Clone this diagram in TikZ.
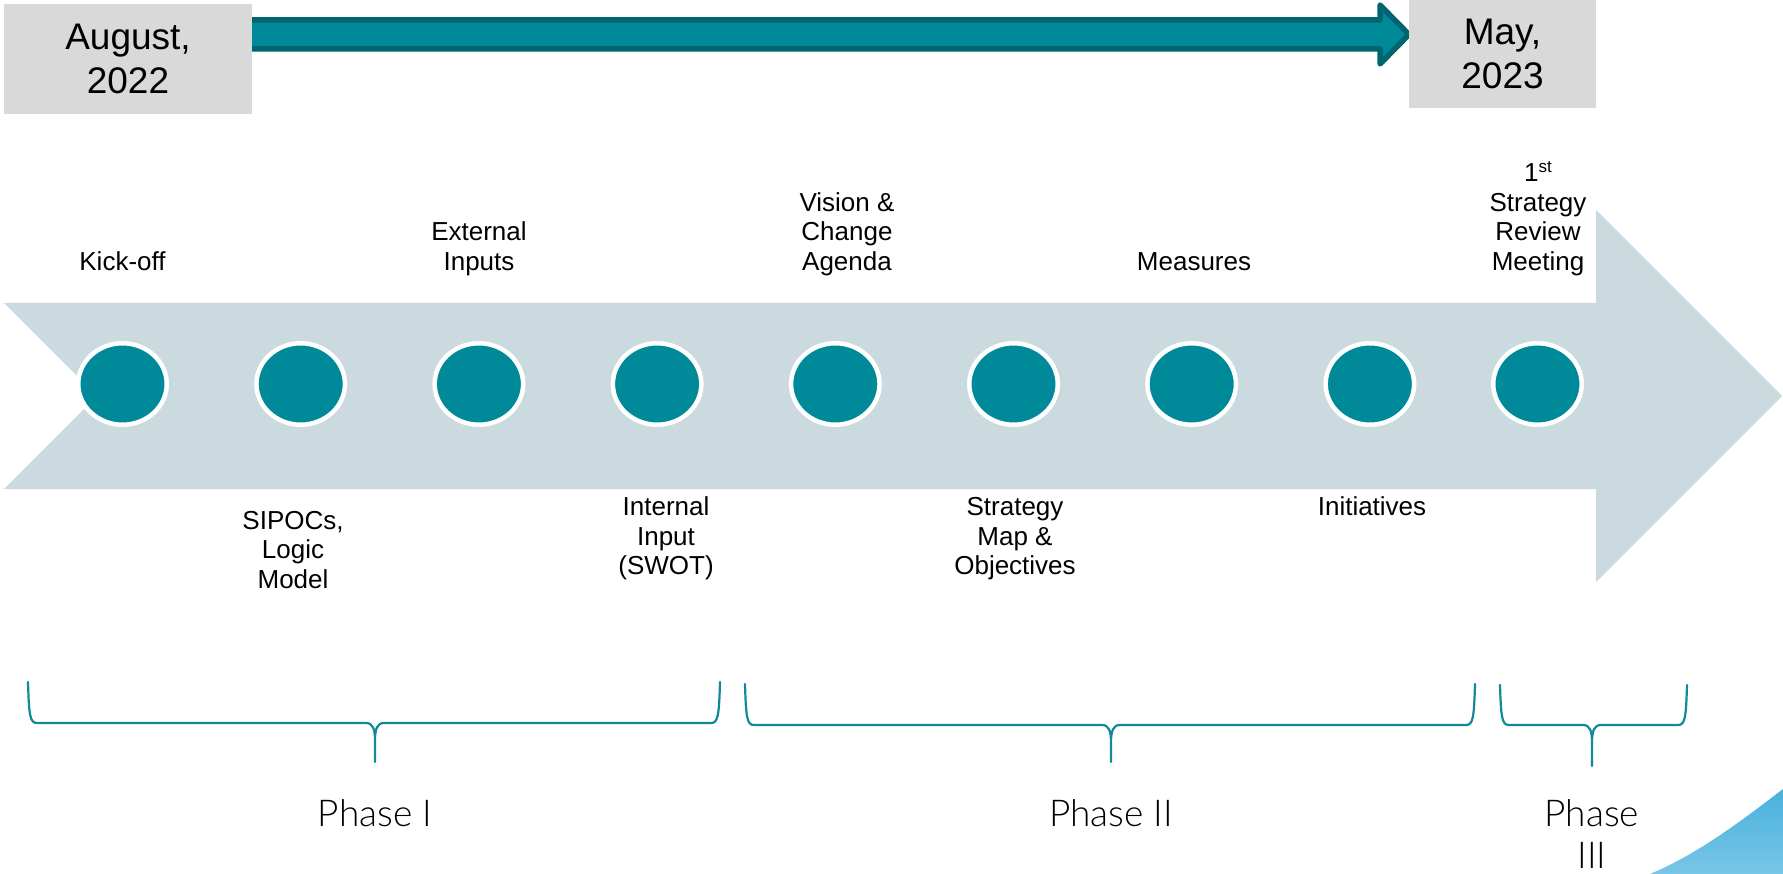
\documentclass[tikz,border=0pt]{standalone}
\usepackage{fontspec}
\setmainfont{Liberation Sans}
\newfontfamily\phasefont{Lato Light}
\usetikzlibrary{shapes.geometric}
\definecolor{tealmain}{RGB}{0,138,153}
\definecolor{tealdark}{RGB}{0,101,111}
\definecolor{arrowlight}{RGB}{202,218,223}
\definecolor{dategray}{RGB}{217,217,217}
\definecolor{bracecol}{RGB}{16,137,152}
\definecolor{swtop}{RGB}{74,177,220}
\definecolor{swbot}{RGB}{120,198,231}
\newcommand{\fstrut}{\rule{0pt}{24pt}}
\begin{document}
\begin{tikzpicture}[x=1pt,y=-1pt,
  lbl/.style={font=\fontsize{26}{29.5}\selectfont, align=center, inner sep=0pt, anchor=north},
  datebox/.style={fill=dategray, inner sep=0pt, align=center, font=\fontsize{37}{44.5}\selectfont},
  dot/.style={ellipse, draw=white, line width=4.5pt, fill=tealmain, inner sep=0pt, minimum width=88.5pt, minimum height=81.5pt},
  brace/.style={draw=bracecol, line width=2.2pt, line cap=round, line join=round},
  phase/.style={font=\phasefont\fontsize{37}{42}\selectfont, align=center, inner sep=0pt, anchor=base}
]
\useasboundingbox (0,0) rectangle (1783,874);

% top timeline arrow
\draw[fill=tealmain, draw=tealdark, line width=5.5pt, line join=round]
  (245,20) -- (1380,20) -- (1380,5) -- (1409,34.5) -- (1380,64) -- (1380,49) -- (245,49) -- cycle;

% date boxes
\node[datebox, minimum width=248pt, minimum height=110pt] (aug) at (128,59) {August,\\2022};
\node[datebox, minimum width=187pt, minimum height=108pt] (may) at (1502.5,54) {May,\\2023};

% big light arrow
\fill[arrowlight] (4,303) -- (1596,303) -- (1596,210) -- (1782,396) -- (1596,582) -- (1596,489) -- (4,489) -- (97,396) -- cycle;

% milestones
\node[dot] (c1) at (122.5,384) {};
\node[dot] (c2) at (300.7,384) {};
\node[dot] (c3) at (478.9,384) {};
\node[dot] (c4) at (657.1,384) {};
\node[dot] (c5) at (835.3,384) {};
\node[dot] (c6) at (1013.5,384) {};
\node[dot] (c7) at (1191.7,384) {};
\node[dot] (c8) at (1369.9,384) {};
\node[dot] (c9) at (1537.5,384) {};

% labels above
\node[lbl] (l1) at (122.5,246) {\fstrut Kick-off};
\node[lbl] (l3) at (479,216.5) {\fstrut External\\Inputs};
\node[lbl] (l5) at (847,187) {\fstrut Vision \&\\Change\\Agenda};
\node[lbl] (l7) at (1194,246) {\fstrut Measures};
\node[lbl] (l9) at (1538,157.5) {\fstrut 1\raisebox{9pt}{\fontsize{17}{17}\selectfont st}\\Strategy\\Review\\Meeting};

% labels below
\node[lbl] (l2) at (293,505) {\fstrut SIPOCs,\\Logic\\Model};
\node[lbl] (l4) at (666,491.5) {\fstrut Internal\\Input\\(SWOT)};
\node[lbl] (l6) at (1015,491.5) {\fstrut Strategy\\Map \&\\Objectives};
\node[lbl] (l8) at (1372,491.5) {\fstrut Initiatives};

% braces
\draw[brace] (28,682) .. controls (29,716) and (30,723) .. (37,723) -- (366,723)
  .. controls (373,723) and (375,729) .. (375,741) -- (375,762)
  (375,741) .. controls (375,729) and (377,723) .. (384,723) -- (711,723)
  .. controls (718,723) and (719,716) .. (720,682);
\draw[brace] (745,684) .. controls (746,718) and (747,725) .. (754,725) -- (1102,725)
  .. controls (1109,725) and (1111,731) .. (1111,743) -- (1111,762)
  (1111,743) .. controls (1111,731) and (1113,725) .. (1120,725) -- (1466,725)
  .. controls (1473,725) and (1474,718) .. (1475,684);
\draw[brace] (1500,685) .. controls (1501,718) and (1502,725) .. (1509,725) -- (1583,725)
  .. controls (1590,725) and (1592,731) .. (1592,743) -- (1592,766)
  (1592,743) .. controls (1592,731) and (1594,725) .. (1601,725) -- (1678,725)
  .. controls (1685,725) and (1686,718) .. (1687,685);

% phase labels
\node[phase] (p1) at (375,826) {Phase I};
\node[phase] (p2) at (1111,826) {Phase II};
\node[phase] (p3) at (1592,868) {Phase\\III};

% decorative swoosh
\shade[top color=swtop, bottom color=swbot] (1650,874) .. controls (1700,853) and (1745,818) .. (1783,789) -- (1783,874) -- cycle;
\end{tikzpicture}
\end{document}
